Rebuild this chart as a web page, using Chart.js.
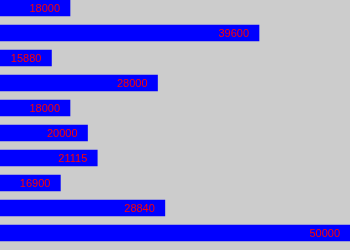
<!DOCTYPE html>
<html>
<head>
<meta charset="utf-8">
<script src="https://cdn.jsdelivr.net/npm/chart.js@4/dist/chart.umd.min.js"></script>
<style>
  html, body { margin: 0; padding: 0; background: #cccccc; }
  canvas { display: block; }
</style>
</head>
<body>
<canvas id="chart" width="350" height="250"></canvas>
<script>
const categories = ['r1', 'r2', 'r3', 'r4', 'r5', 'r6', 'r7', 'r8', 'r9', 'r10'];
const values = [18000, 39600, 15880, 28000, 18000, 20000, 21115, 16900, 28840, 50000];
const valueLabels = ['18000', '39600', '15880', '28000', '18000', '20000', '21115', '16900', '28840', '50000'];

// draw the red value text near the end of each bar
const barLabels = {
  id: 'barLabels',
  afterDatasetsDraw(chart) {
    const ctx = chart.ctx;
    const meta = chart.getDatasetMeta(0);
    ctx.save();
    ctx.font = '11px "Liberation Sans", Arial, sans-serif';
    ctx.fillStyle = '#ff0000';
    ctx.textAlign = 'right';
    ctx.textBaseline = 'middle';
    meta.data.forEach((bar, i) => {
      ctx.fillText(valueLabels[i], bar.x - 10, bar.y + 0.5);
    });
    ctx.restore();
  }
};

const ctx = document.getElementById('chart').getContext('2d');
new Chart(ctx, {
  type: 'bar',
  data: {
    labels: categories,
    datasets: [{
      data: values,
      backgroundColor: '#0000ff',
      borderWidth: 0,
      barThickness: 16,
      clip: false
    }]
  },
  options: {
    indexAxis: 'y',
    responsive: false,
    animation: false,
    layout: { padding: { top: 8, bottom: 17, left: 0, right: 0 } },
    plugins: {
      legend: { display: false },
      tooltip: { enabled: false }
    },
    scales: {
      x: {
        display: false,
        min: 10000,
        max: 50000
      },
      y: {
        display: false,
        offset: false
      }
    }
  },
  plugins: [barLabels]
});
</script>
</body>
</html>
